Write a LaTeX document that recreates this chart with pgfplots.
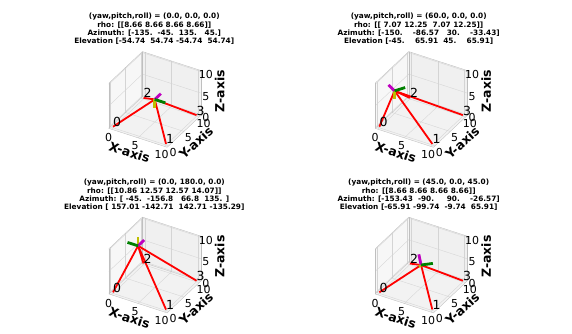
\documentclass[border=0pt]{standalone}
\usepackage{fontspec}
\setmainfont{DejaVu Sans}
\usepackage{pgfplots}
\pgfplotsset{compat=1.18}
\definecolor{gridc}{RGB}{212,212,212}
\definecolor{dgreen}{RGB}{0,128,0}
\definecolor{mm}{RGB}{191,0,191}
\definecolor{yy}{RGB}{191,191,0}
\newcommand{\lbl}[2]{\node[anchor=base west,inner sep=0pt,font=\fontsize{12.5}{12.5}\selectfont] at (axis cs:#2) {#1};}
\newcommand{\panel}[5]{%
\begin{axis}[at={#1},anchor=south west,
  x={(5.3pt,-1.72pt)},y={(3.05pt,2.88pt)},z={(0pt,4.3pt)},
  xmin=-0.5,xmax=10.5,ymin=-0.5,ymax=10.5,zmin=-0.25,zmax=10.25,
  xtick={0,5,10},ytick={0,5,10},ztick={0,5,10},
  grid=major,grid style={gridc,line width=0.35pt},
  axis line style={gray!50,line width=0.35pt},
  major tick length=0pt,
  zticklabel pos=right,
  clip=false,set layers,
  /pgf/number format/assume math mode=true,
  tick label style={font=\fontsize{11}{11}\selectfont,inner sep=0pt},
  xticklabel style={anchor=center,xshift=-2.8pt,yshift=-8.2pt},
  yticklabel style={anchor=center,xshift=4.35pt,yshift=-6.6pt},
  zticklabel style={anchor=center,xshift=5.1pt,yshift=-3.3pt},
  xlabel={\bfseries X-axis},ylabel={\bfseries Y-axis},zlabel={\bfseries Z-axis},
  label style={font=\fontsize{12.5}{12.5}\selectfont},
  xlabel style={at={(axis cs:5,0,0)},anchor=center,xshift=-10pt,yshift=-17pt,rotate=-18},
  ylabel style={at={(axis cs:10,5,0)},anchor=center,xshift=14.7pt,yshift=-13.3pt,rotate=42},
  zlabel style={at={(axis cs:10,10,5)},anchor=center,xshift=2.7pt,yshift=-23.3pt,rotate=0},
]
\addplot3[on layer=axis background,fill=black!5,draw=none] coordinates {(-0.5,-0.5,-0.25)(10.5,-0.5,-0.25)(10.5,10.5,-0.25)(-0.5,10.5,-0.25)(-0.5,-0.5,-0.25)};
\addplot3[on layer=axis background,fill=black!3,draw=none] coordinates {(-0.5,-0.5,-0.25)(-0.5,10.5,-0.25)(-0.5,10.5,10.25)(-0.5,-0.5,10.25)(-0.5,-0.5,-0.25)};
\addplot3[on layer=axis background,fill=black!6,draw=none] coordinates {(-0.5,10.5,-0.25)(10.5,10.5,-0.25)(10.5,10.5,10.25)(-0.5,10.5,10.25)(-0.5,10.5,-0.25)};
\addplot3[red,line width=1.8pt] coordinates {(0,0,0) #2};
\addplot3[red,line width=1.8pt] coordinates {(10,0,0) #2};
\addplot3[red,line width=1.8pt] coordinates {(0,10,0) #2};
\addplot3[red,line width=1.8pt] coordinates {(10,10,0) #2};
\addplot3[yy,line width=2.8pt] coordinates {#2 #5};
\addplot3[mm,line width=2.8pt] coordinates {#2 #4};
\addplot3[dgreen,line width=2.8pt] coordinates {#2 #3};
\lbl{0}{0,0,0}\lbl{1}{10,0,0}\lbl{2}{0,10,0}\lbl{3}{10,10,0}
\end{axis}}
\newcommand{\ttl}[2]{\node[align=center,inner sep=0pt,font=\fontsize{7.35}{8.4}\selectfont\bfseries] at #1 {#2};}
\begin{document}
\begin{tikzpicture}
\path (0pt,0pt) rectangle (572pt,334pt);
\panel{(108.85pt,186.7pt)}{(5,5,5)}{(7,5,5)}{(5,7,5)}{(5,5,3)}
\panel{(375.15pt,186.7pt)}{(0,5,5)}{(1,6.73,5)}{(-1.73,6,5)}{(0,5,3)}
\panel{(108.85pt,21.1pt)}{(3,3,10)}{(1,3,10)}{(3,5,10)}{(3,3,12)}
\panel{(375.15pt,21.1pt)}{(5,5,5)}{(6.41,6.41,5)}{(4,6,6.41)}{(4,6,3.59)}
\ttl{(154.3pt,305pt)}{(yaw,pitch,roll) = (0.0, 0.0, 0.0)\\rho: [[8.66 8.66 8.66 8.66]]\\Azimuth: [-135.\ \ -45.\ \ 135.\ \ \ 45.]\\Elevation [-54.74\ \ 54.74 -54.74\ \ 54.74]}
\ttl{(418.7pt,305pt)}{(yaw,pitch,roll) = (60.0, 0.0, 0.0)\\rho: [[ 7.07 12.25\ \ 7.07 12.25]]\\Azimuth: [-150.\ \ \ \ -86.57\ \ \ 30.\ \ \ \ -33.43]\\Elevation [-45.\ \ \ \ 65.91\ \ 45.\ \ \ \ 65.91]}
\ttl{(154.3pt,139pt)}{(yaw,pitch,roll) = (0.0, 180.0, 0.0)\\rho: [[10.86 12.57 12.57 14.07]]\\Azimuth: [ -45.\ \ -156.8\ \ \ 66.8\ \ 135. ]\\Elevation [ 157.01 -142.71\ \ 142.71 -135.29]}
\ttl{(418.7pt,139pt)}{(yaw,pitch,roll) = (45.0, 0.0, 45.0)\\rho: [[8.66 8.66 8.66 8.66]]\\Azimuth: [-153.43\ \ -90.\ \ \ \ \ 90.\ \ \ \ -26.57]\\Elevation [-65.91 -99.74\ \ -9.74\ \ 65.91]}
\end{tikzpicture}
\end{document}
